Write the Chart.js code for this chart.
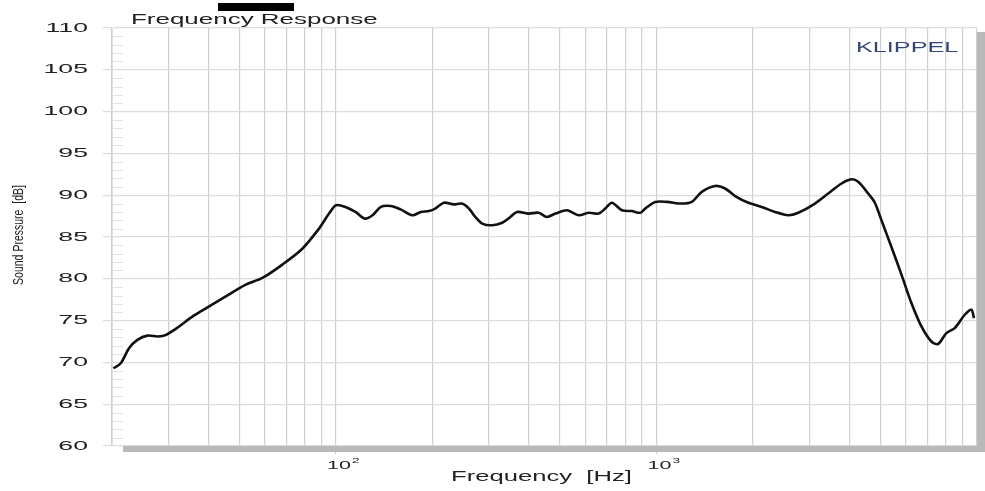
<!DOCTYPE html>
<html>
<head>
<meta charset="utf-8">
<title>Frequency Response</title>
<script src="https://cdn.jsdelivr.net/npm/chart.js@4.4.0/dist/chart.umd.min.js"></script>
<style>
  html, body { margin: 0; padding: 0; background: #fff; }
  #fr { display: block; }
</style>
</head>
<body>
<canvas id="fr" width="985" height="491"></canvas>
<script>
/* Frequency response (KLIPPEL style), log x axis 20 Hz .. 10 kHz */

var freqHz = [20.2, 21.3, 22.6, 24.0, 25.8, 27.8, 29.5, 32.4, 35.7, 40.2, 45.3, 52.3, 58.9, 68.0, 78.5, 88.5, 95.1, 100,
  107, 115, 123, 130, 138, 148, 159, 173, 184, 195, 204, 217, 233, 247, 260, 272, 286, 307, 330, 350, 367, 399,
  429, 455, 484, 526, 572, 614, 660, 692, 726, 780, 838, 890, 922, 991,
  1077, 1199, 1288, 1384, 1524, 1637, 1759, 1935, 2128, 2343, 2577, 2769, 3122, 3434, 3779, 4059, 4259, 4576,
  4800, 5034, 5408, 5812, 6242, 6708, 7205, 7557, 8025, 8520, 9157, 9601, 9788];
var splDb = [69.3, 69.9, 71.7, 72.7, 73.2, 73.1, 73.3, 74.3, 75.5, 76.7, 77.9, 79.3, 80.1, 81.7, 83.6, 86.0, 87.8, 88.8,
  88.6, 88.0, 87.2, 87.6, 88.6, 88.7, 88.3, 87.6, 88.0, 88.1, 88.4, 89.1, 88.9, 89.0, 88.4, 87.4, 86.6, 86.4, 86.7, 87.4,
  88.0, 87.8, 87.9, 87.4, 87.8, 88.2, 87.6, 87.9, 87.8, 88.4, 89.1, 88.2, 88.1, 87.9, 88.4, 89.2,
  89.2, 89.0, 89.2, 90.4, 91.1, 90.8, 89.9, 89.1, 88.6, 88.0, 87.6, 87.9, 89.0, 90.2, 91.4, 91.9, 91.6, 90.2,
  89.1, 87.0, 83.8, 80.5, 77.1, 74.3, 72.5, 72.2, 73.5, 74.1, 75.7, 76.3, 75.3];

// axes
var xGrid = [20, 30, 40, 50, 60, 70, 80, 90, 100, 200, 300, 400, 500, 600, 700, 800, 900,
  1000, 2000, 3000, 4000, 5000, 6000, 7000, 8000, 9000, 10000];
var xLabels = { 100: '2', 1000: '3' };   // 10^n
var yTicks = [60, 65, 70, 75, 80, 85, 90, 95, 100, 105, 110];

var FONT = '"Liberation Sans", Arial, sans-serif';

/** 横向拉伸文字 (原图文字被横向放大) */
function stretchText(ctx, txt, x, y, o) {
  ctx.save();
  ctx.font = o.size + 'px ' + FONT;
  ctx.fillStyle = o.color || '#222';
  ctx.textBaseline = 'middle';
  ctx.textAlign = o.align || 'left';
  ctx.translate(x, y);
  if (o.rot) ctx.rotate(o.rot);
  ctx.scale(o.sx || 1, o.sy || 1);
  ctx.fillText(txt, 0, 0);
  ctx.restore();
}

var decorPlugin = {
  id: 'decor',
  afterDraw: function(chart) {
    var ctx = chart.ctx, a = chart.chartArea;
    var xs = chart.scales.x, ys = chart.scales.y;

    // drop shadow right / bottom
    ctx.save();
    ctx.fillStyle = '#b9b9b9';
    ctx.fillRect(a.right, a.top + 4, 8, a.bottom - a.top + 2);
    ctx.fillRect(a.left + 11, a.bottom, a.right - a.left - 11, 6);

    // minor dB ticks on the left axis
    ctx.strokeStyle = '#e2e2e2';
    ctx.lineWidth = 1;
    for (var v = 61; v < 110; v++) {
      if (v % 5 === 0) continue;
      var py = Math.round(ys.getPixelForValue(v)) + 0.5;
      ctx.beginPath();
      ctx.moveTo(a.left, py);
      ctx.lineTo(a.left + 11, py);
      ctx.stroke();
    }

    // title bar
    ctx.fillStyle = '#000';
    ctx.fillRect(218, 3, 76, 8);
    ctx.restore();

    // y tick labels
    yTicks.forEach(function(t) {
      stretchText(ctx, String(t), 88, ys.getPixelForValue(t), { size: 13, sx: 2.05, align: 'right' });
    });

    // x tick labels 10^2, 10^3
    Object.keys(xLabels).forEach(function(k) {
      var px = xs.getPixelForValue(Number(k));
      stretchText(ctx, '10', px - 9, 466, { size: 11, sx: 1.95 });
      stretchText(ctx, xLabels[k], px + 16, 461, { size: 8, sx: 1.7 });
    });

    // texts
    stretchText(ctx, 'Frequency Response', 131, 20, { size: 15, sx: 1.73 });
    stretchText(ctx, 'Frequency  [Hz]', 451, 477, { size: 14, sx: 1.83 });
    stretchText(ctx, 'Sound Pressure  [dB]', 19, 235, { size: 15, sx: 0.7, rot: -Math.PI / 2, align: 'center' });
    stretchText(ctx, 'KLIPPEL', 856, 48, { size: 14, sx: 1.8, color: '#34457c' });
  }
};

new Chart(document.getElementById('fr'), {
  type: 'scatter',
  data: {
    datasets: [{
      data: freqHz.map(function(f, i) { return { x: f, y: splDb[i] }; }),
      showLine: true,
      borderColor: '#111',
      borderWidth: 2.6,
      pointRadius: 0,
      tension: 0.3,
      fill: false
    }]
  },
  options: {
    responsive: false,
    animation: false,
    layout: { padding: { top: 28, right: 8, left: 0, bottom: 0 } },
    plugins: { legend: { display: false }, tooltip: { enabled: false } },
    scales: {
      x: {
        type: 'logarithmic',
        min: 20,
        max: 10000,
        afterBuildTicks: function(s) { s.ticks = xGrid.map(function(v) { return { value: v }; }); },
        afterFit: function(s) { s.height = 45; },
        ticks: { display: false },
        grid: {
          color: '#cfcfcf',
          lineWidth: 1.2,
          tickLength: 8,
          tickColor: function(c) { return (c.tick && xLabels[c.tick.value]) ? '#cfcfcf' : 'rgba(0,0,0,0)'; }
        },
        border: { display: false }
      },
      y: {
        min: 60,
        max: 110,
        afterBuildTicks: function(s) { s.ticks = yTicks.map(function(v) { return { value: v }; }); },
        afterFit: function(s) { s.width = 112; },
        ticks: { display: false },
        grid: { color: '#dcdcdc', lineWidth: 1.2, tickLength: 9 },
        border: { display: true, color: '#e0e0e0', width: 1 }
      }
    }
  },
  plugins: [decorPlugin]
});
</script>
</body>
</html>
